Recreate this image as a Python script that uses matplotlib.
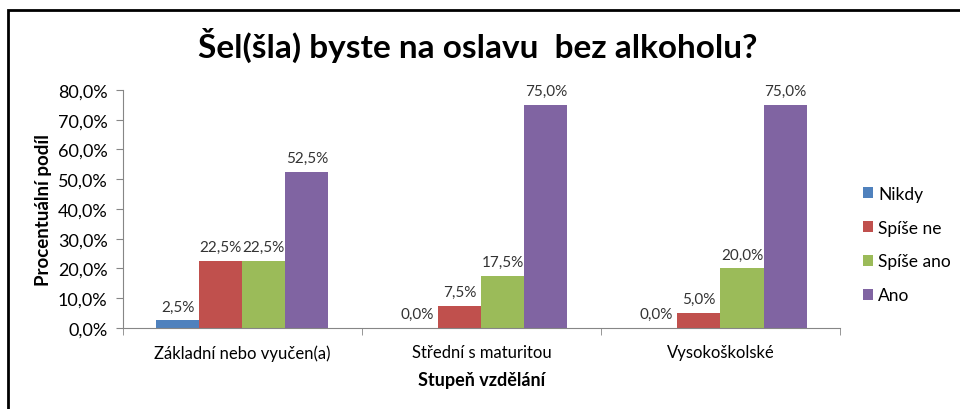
import numpy as np
import matplotlib.pyplot as plt
from matplotlib.patches import Rectangle

plt.rcParams['font.family'] = ['Lato', 'DejaVu Sans']

categories = ['Základní nebo vyučen(a)', 'Střední s maturitou', 'Vysokoškolské']
series = ['Nikdy', 'Spíše ne', 'Spíše ano', 'Ano']
values = {
    'Nikdy': [2.5, 0.0, 0.0],
    'Spíše ne': [22.5, 7.5, 5.0],
    'Spíše ano': [22.5, 17.5, 20.0],
    'Ano': [52.5, 75.0, 75.0],
}
colors = ['#4F81BD', '#C0504D', '#9BBB59', '#8064A2']

fig = plt.figure(figsize=(9.6, 4.1), dpi=100)
ax = fig.add_axes([0.128, 0.198, 0.747, 0.58])

x = np.arange(len(categories))
w = 0.18
for i, s in enumerate(series):
    pos = x + (i - 1.5) * w
    ax.bar(pos, values[s], width=w, color=colors[i], label=s)
    for p, v in zip(pos, values[s]):
        ax.text(p, v + 2.3, f'{v:.1f}%'.replace('.', ','), ha='center', va='bottom',
                fontsize=11, color='#333333')

ax.set_xlim(-0.5, 2.5)
ax.set_ylim(0, 80)
ax.set_yticks(np.arange(0, 81, 10))
ax.set_yticklabels([f'{t:.1f}%'.replace('.', ',') for t in np.arange(0, 81, 10)], fontsize=13)
ax.set_xticks(x)
ax.set_xticklabels(categories, fontsize=12)
ax.set_xticks([-0.5, 0.5, 1.5, 2.5], minor=True)
ax.tick_params(axis='x', which='major', length=0, pad=12)
ax.tick_params(axis='x', which='minor', length=5, color='#868686')
ax.tick_params(axis='y', length=5, color='#868686', pad=6)
for sp in ['top', 'right']:
    ax.spines[sp].set_visible(False)
for sp in ['left', 'bottom']:
    ax.spines[sp].set_color('#868686')

ax.set_ylabel('Procentuální podíl', fontsize=13.5, fontweight='bold', labelpad=4)
ax.set_xlabel('Stupeň vzdělání', fontsize=13, fontweight='bold', labelpad=7)
fig.text(0.498, 0.89, 'Šel(šla) byste na oslavu  bez alkoholu?', ha='center', va='center',
         fontsize=24, fontweight='bold')

ax.legend(loc='center left', bbox_to_anchor=(1.01, 0.35), frameon=False, fontsize=12.5,
          handlelength=0.6, handleheight=0.6, handletextpad=0.3, labelspacing=1.02)

fig.patches.append(Rectangle((8 / 960, -0.2), 1.2, 1.2 - 11 / 410, transform=fig.transFigure,
                             fill=False, edgecolor='black', linewidth=2))

fig.savefig('out.png', dpi=100)
